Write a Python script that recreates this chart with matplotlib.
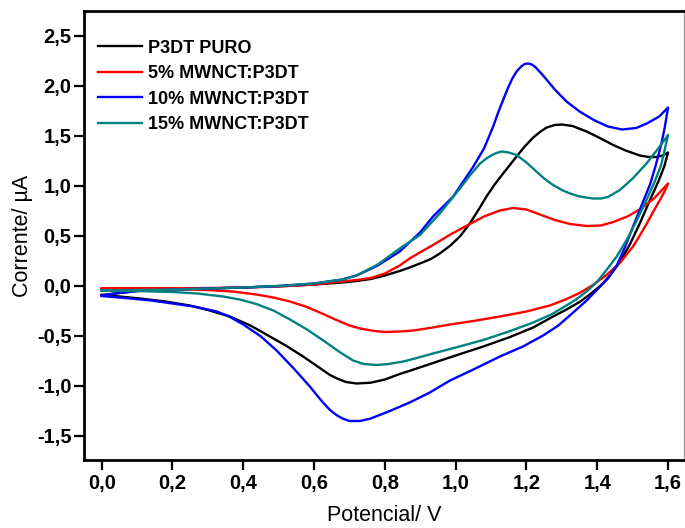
import matplotlib
matplotlib.use("Agg")
import matplotlib.pyplot as plt
from matplotlib.ticker import MultipleLocator, FuncFormatter

plt.rcParams['font.family'] = ['Liberation Sans', 'DejaVu Sans']

# P3DT puro
v_black_fwd = [0.0, 0.05, 0.10, 0.20, 0.30, 0.40, 0.50, 0.60, 0.68, 0.72, 0.76, 0.80, 0.842, 0.87, 0.899,
               0.93, 0.955, 0.985, 1.012, 1.04, 1.065, 1.087, 1.11, 1.134, 1.172, 1.195, 1.219, 1.24, 1.257,
               1.28, 1.30, 1.33, 1.37, 1.41, 1.445, 1.48, 1.52, 1.545, 1.567, 1.585, 1.60]
i_black_fwd = [-0.095, -0.075, -0.055, -0.040, -0.030, -0.020, -0.008, 0.010, 0.030, 0.045, 0.065, 0.10, 0.145, 0.18, 0.22,
               0.265, 0.32, 0.40, 0.49, 0.62, 0.76, 0.89, 1.01, 1.12, 1.29, 1.39, 1.48, 1.54, 1.58,
               1.605, 1.61, 1.595, 1.54, 1.47, 1.405, 1.35, 1.30, 1.285, 1.285, 1.30, 1.33]
v_black_rev = [1.60, 1.59, 1.575, 1.549, 1.52, 1.492, 1.465, 1.436, 1.41, 1.379, 1.35, 1.313, 1.27, 1.219,
               1.15, 1.078, 1.0, 0.936, 0.89, 0.842, 0.80, 0.76, 0.72, 0.69, 0.665, 0.645, 0.61, 0.569,
               0.52, 0.475, 0.42, 0.362, 0.30, 0.249, 0.18, 0.108, 0.05, 0.0]
i_black_rev = [1.33, 1.20, 1.06, 0.855, 0.62, 0.41, 0.24, 0.10, 0.0, -0.09, -0.165, -0.24, -0.32, -0.42,
               -0.52, -0.61, -0.70, -0.775, -0.83, -0.885, -0.94, -0.972, -0.98, -0.965, -0.93, -0.895, -0.81, -0.71,
               -0.60, -0.51, -0.40, -0.31, -0.245, -0.20, -0.16, -0.13, -0.11, -0.095]

# 5% MWNCT:P3DT
v_red_fwd = [0.0, 0.155, 0.30, 0.40, 0.50, 0.60, 0.72, 0.76, 0.80, 0.842, 0.87, 0.899, 0.936, 0.985, 1.04,
             1.08, 1.125, 1.162, 1.20, 1.238, 1.28, 1.323, 1.37, 1.41, 1.445, 1.485, 1.52, 1.56, 1.60]
i_red_fwd = [-0.03, -0.03, -0.025, -0.02, -0.01, 0.01, 0.055, 0.075, 0.12, 0.20, 0.27, 0.33, 0.405, 0.51, 0.615,
             0.69, 0.75, 0.775, 0.76, 0.71, 0.655, 0.615, 0.595, 0.60, 0.635, 0.69, 0.76, 0.87, 1.02]
v_red_rev = [1.60, 1.59, 1.577, 1.56, 1.54, 1.52, 1.501, 1.465, 1.426, 1.39, 1.35, 1.31, 1.266, 1.20,
             1.125, 1.05, 0.984, 0.927, 0.88, 0.842, 0.80, 0.77, 0.73, 0.70, 0.66, 0.626, 0.58, 0.532,
             0.485, 0.437, 0.37, 0.296, 0.155, 0.0]
i_red_rev = [1.02, 0.94, 0.855, 0.75, 0.62, 0.50, 0.39, 0.23, 0.105, 0.01, -0.075, -0.14, -0.20, -0.26,
             -0.31, -0.355, -0.39, -0.425, -0.45, -0.46, -0.465, -0.455, -0.43, -0.40, -0.34, -0.285, -0.215, -0.16,
             -0.12, -0.09, -0.06, -0.045, -0.03, -0.03]

# 10% MWNCT:P3DT
v_blue_fwd = [0.0, 0.05, 0.10, 0.20, 0.30, 0.40, 0.50, 0.60, 0.68, 0.72, 0.78, 0.842, 0.899, 0.936, 0.993,
              1.05, 1.08, 1.106, 1.12, 1.134, 1.147, 1.16, 1.172, 1.185, 1.195, 1.205, 1.215, 1.225, 1.247,
              1.28, 1.313, 1.35, 1.39, 1.43, 1.47, 1.51, 1.54, 1.575, 1.60]
i_blue_fwd = [-0.10, -0.075, -0.055, -0.04, -0.03, -0.02, -0.005, 0.02, 0.06, 0.10, 0.20, 0.34, 0.53, 0.69, 0.89,
              1.19, 1.37, 1.59, 1.73, 1.855, 1.97, 2.07, 2.14, 2.19, 2.215, 2.22, 2.21, 2.185, 2.10,
              1.96, 1.84, 1.74, 1.655, 1.59, 1.56, 1.575, 1.62, 1.69, 1.78]
v_blue_rev = [1.60, 1.59, 1.58, 1.565, 1.55, 1.525, 1.50, 1.478, 1.455, 1.43, 1.40, 1.37, 1.332, 1.29,
              1.247, 1.19, 1.125, 1.05, 0.984, 0.927, 0.87, 0.814, 0.76, 0.73, 0.70, 0.68, 0.663, 0.645,
              0.625, 0.605, 0.588, 0.54, 0.494, 0.45, 0.40, 0.36, 0.325, 0.26, 0.20, 0.14, 0.08, 0.0]
i_blue_rev = [1.78, 1.57, 1.40, 1.20, 1.02, 0.80, 0.58, 0.38, 0.20, 0.07, -0.04, -0.15, -0.27, -0.40,
              -0.50, -0.61, -0.71, -0.84, -0.95, -1.07, -1.17, -1.255, -1.33, -1.355, -1.355, -1.33, -1.295, -1.245,
              -1.17, -1.085, -1.01, -0.82, -0.65, -0.51, -0.39, -0.31, -0.26, -0.21, -0.18, -0.15, -0.13, -0.105]

# 15% MWNCT:P3DT
v_teal_fwd = [0.0, 0.10, 0.20, 0.30, 0.40, 0.50, 0.60, 0.68, 0.72, 0.78, 0.842, 0.899, 0.955, 1.012, 1.04,
              1.069, 1.085, 1.10, 1.115, 1.13, 1.15, 1.172, 1.20, 1.228, 1.25, 1.275, 1.30, 1.323, 1.35,
              1.388, 1.41, 1.43, 1.464, 1.50, 1.539, 1.57, 1.60]
i_teal_fwd = [-0.05, -0.045, -0.04, -0.03, -0.02, -0.005, 0.02, 0.06, 0.10, 0.21, 0.37, 0.505, 0.72, 0.97, 1.10,
              1.22, 1.265, 1.30, 1.325, 1.34, 1.33, 1.305, 1.23, 1.14, 1.07, 1.005, 0.955, 0.92, 0.89,
              0.87, 0.87, 0.885, 0.955, 1.07, 1.22, 1.36, 1.505]
v_teal_rev = [1.60, 1.59, 1.58, 1.56, 1.539, 1.51, 1.483, 1.455, 1.426, 1.40, 1.37, 1.34, 1.313, 1.27,
              1.219, 1.15, 1.078, 1.0, 0.936, 0.89, 0.852, 0.81, 0.777, 0.74, 0.71, 0.67, 0.626, 0.58,
              0.532, 0.485, 0.437, 0.39, 0.343, 0.27, 0.20, 0.10, 0.0]
i_teal_rev = [1.505, 1.35, 1.20, 1.02, 0.855, 0.64, 0.455, 0.29, 0.155, 0.04, -0.06, -0.14, -0.20, -0.29,
              -0.37, -0.46, -0.545, -0.62, -0.68, -0.725, -0.76, -0.785, -0.795, -0.785, -0.75, -0.66, -0.55, -0.44,
              -0.34, -0.25, -0.185, -0.14, -0.11, -0.08, -0.065, -0.055, -0.05]

labels = ['P3DT PURO', '5% MWNCT:P3DT', '10% MWNCT:P3DT', '15% MWNCT:P3DT']
colors = ['#000000', '#ff0000', '#0000ff', '#008080']

curves = [
    (v_black_fwd + v_black_rev, i_black_fwd + i_black_rev),
    (v_red_fwd + v_red_rev, i_red_fwd + i_red_rev),
    (v_blue_fwd + v_blue_rev, i_blue_fwd + i_blue_rev),
    (v_teal_fwd + v_teal_rev, i_teal_fwd + i_teal_rev),
]

fig = plt.figure(figsize=(6.85, 5.28), dpi=100)
ax = fig.add_axes([84 / 685, 68 / 528, 600 / 685, 449 / 528])

for (v, i), lab, col in zip(curves, labels, colors):
    ax.plot(v, i, color=col, lw=1.7, label=lab, solid_joinstyle='round')

ax.set_xlim(-0.05, 1.645)
ax.set_ylim(-1.745, 2.745)
ax.xaxis.set_major_locator(MultipleLocator(0.2))
ax.yaxis.set_major_locator(MultipleLocator(0.5))
fmt = FuncFormatter(lambda val, pos: ('%.1f' % val).replace('.', ','))
ax.xaxis.set_major_formatter(fmt)
ax.yaxis.set_major_formatter(fmt)

ax.tick_params(direction='out', length=7, width=1.6, labelsize=14.5, pad=3)
for lbl in ax.get_xticklabels() + ax.get_yticklabels():
    lbl.set_fontweight('bold')
ax.tick_params(axis='y', pad=2)

for side in ['left', 'bottom', 'top']:
    ax.spines[side].set_linewidth(2)
    ax.spines[side].set_color('black')
ax.spines['right'].set_linewidth(1)
ax.spines['right'].set_color('#999999')

ax.set_xlabel('Potencial/ V', fontsize=15.5, labelpad=9)
ax.set_ylabel('Corrente/ µA', fontsize=15.5, labelpad=3)

leg = ax.legend(loc='upper left', bbox_to_anchor=(0.005, 0.96), frameon=False,
                prop={'size': 13, 'weight': 'bold'}, handlelength=2.45, handletextpad=0.33,
                labelspacing=0.47, borderaxespad=0.2)

fig.savefig('out.png', dpi=100)
